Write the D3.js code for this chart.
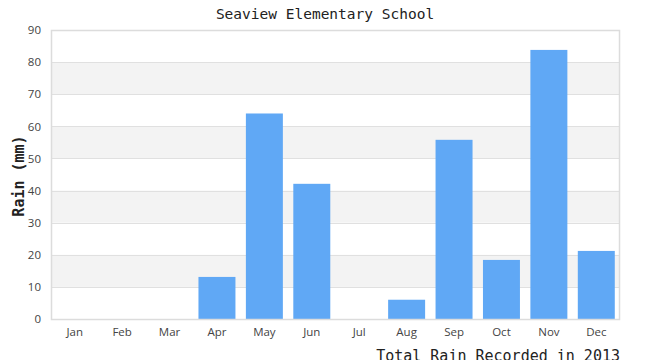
<!DOCTYPE html>
<html><head><meta charset="utf-8">
<script src="https://cdn.jsdelivr.net/npm/d3@7/dist/d3.min.js"></script>
<style>body{margin:0;background:#fff}svg{display:block}</style>
</head><body>
<svg id="c" width="650" height="360"></svg>
<script>
const months = ["Jan","Feb","Mar","Apr","May","Jun","Jul","Aug","Sep","Oct","Nov","Dec"];
const rain = [0,0,0,13.1,64,42.1,0,6,55.8,18.4,83.8,21.2];
const yTicks = [0,10,20,30,40,50,60,70,80,90];
const title = "Seaview Elementary School";
const yTitle = "Rain (mm)";
const xTitle = "Total Rain Recorded in 2013";

const svg = d3.select("#c");
const L=51, R=620, T=30, B=319;
const x = d3.scaleBand().domain(months).range([L,R]).paddingInner(0.22).paddingOuter(0.11);
const y = d3.scaleLinear().domain([0,90]).range([B,T]);

// alternating bands
const bands = d3.range(0,90,10).filter(v => (v/10)%2===1);
svg.selectAll("rect.band").data(bands).enter().append("rect")
  .attr("x",L).attr("width",R-L)
  .attr("y",d=>y(d+10)).attr("height",d=>y(d)-y(d+10))
  .attr("fill","#f3f3f3");

// gridlines
svg.append("g").selectAll("line").data(yTicks.slice(1,-1)).enter().append("line")
  .attr("x1",L).attr("x2",R).attr("y1",d=>Math.round(y(d))+0.5).attr("y2",d=>Math.round(y(d))+0.5)
  .attr("stroke","#e0e0e0");

// bars
svg.selectAll("rect.bar").data(months).enter().append("rect")
  .attr("x",d=>x(d)).attr("width",x.bandwidth())
  .attr("y",(d,i)=>y(rain[i])).attr("height",(d,i)=>B-y(rain[i]))
  .attr("fill","#60a8f5");

// border
svg.append("rect").attr("x",L+0.5).attr("y",T+0.5).attr("width",R-L-1).attr("height",B-T)
  .attr("fill","none").attr("stroke","#dcdcdc").attr("stroke-width",1.5);

// y axis labels
const ya = svg.append("g").attr("transform",`translate(${L-10},0)`)
  .call(d3.axisLeft(y).tickValues(yTicks).tickSize(0).tickPadding(0));
ya.select(".domain").remove();
ya.selectAll("text").attr("font-family","Open Sans, sans-serif").attr("font-size",11.5).attr("fill","#444");

// x axis labels
const xa = svg.append("g").attr("transform",`translate(0,${B+9})`)
  .call(d3.axisBottom(x).tickSize(0).tickPadding(0));
xa.select(".domain").remove();
xa.selectAll("text").attr("font-family","Open Sans, sans-serif").attr("font-size",11.5).attr("fill","#444").attr("dy","0.71em");

// titles
svg.append("text").attr("x",325).attr("y",19).attr("text-anchor","middle")
  .attr("font-family","DejaVu Sans Mono, monospace").attr("font-size",14.5).attr("fill","#222").text(title);
svg.append("text").attr("transform","translate(24,176) rotate(-90)").attr("text-anchor","middle")
  .attr("font-family","DejaVu Sans Mono, monospace").attr("font-size",15).attr("font-weight","bold").attr("fill","#222").text(yTitle);
svg.append("text").attr("x",620).attr("y",361).attr("text-anchor","end")
  .attr("font-family","DejaVu Sans Mono, monospace").attr("font-size",15).attr("fill","#222").text(xTitle);
</script>
</body></html>
